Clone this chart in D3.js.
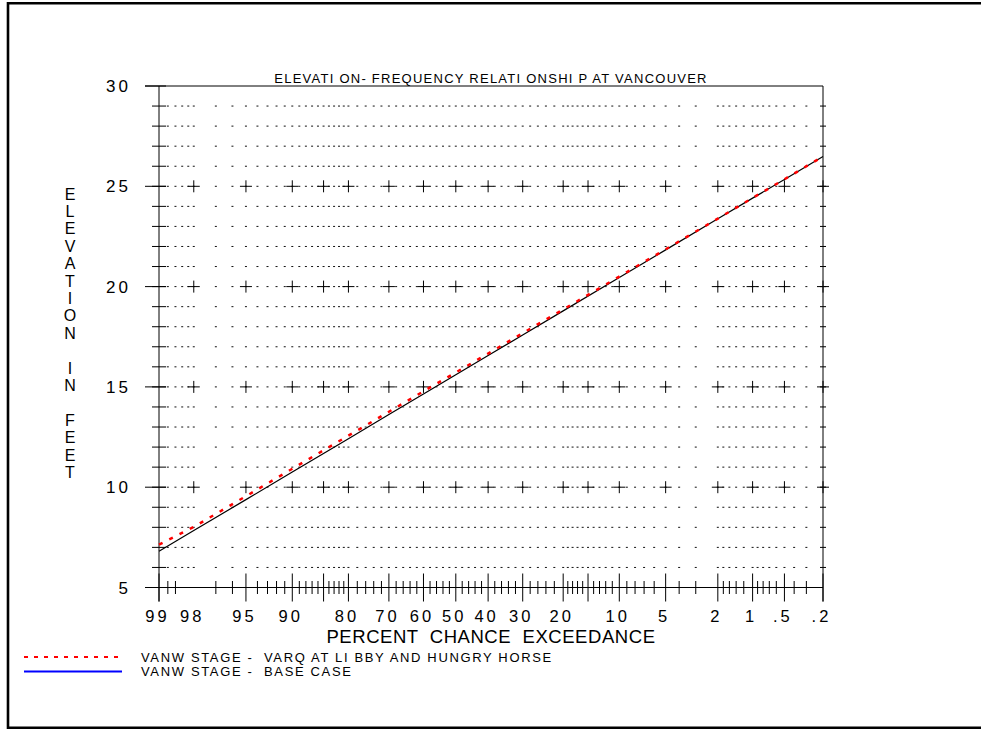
<!DOCTYPE html>
<html>
<head>
<meta charset="utf-8">
<script src="https://cdn.jsdelivr.net/npm/d3@7"></script>
<style>
  body { margin: 0; background: #fff; overflow: hidden; }
  svg { display: block; overflow: hidden; }
  svg text { font-family: "Liberation Sans", Arial, sans-serif; fill: #000; white-space: pre; }
</style>
</head>
<body>
<div id="chart"></div>
<script>
// percent chance exceedance where the curves were read
const exceedance = [99, 98, 95, 90, 80, 70, 60, 50, 40, 30, 20, 10, 5, 2, 1, 0.5, 0.2];
// VANW stage - base case (feet)
const baseCase = [6.81, 7.84, 9.38, 10.76, 12.42, 13.62, 14.65, 15.61, 16.56, 17.59, 18.79, 20.45, 21.83, 23.38, 24.41, 25.34, 26.49];
// VANW stage - VARQ at Libby and Hungry Horse (feet)
const varqCase = [7.14, 8.02, 9.55, 10.92, 12.57, 13.76, 14.78, 15.72, 16.66, 17.68, 18.86, 20.5, 21.86, 23.39, 24.42, 25.35, 26.49];

// probability axis
const xLabelValues = [99, 98, 95, 90, 80, 70, 60, 50, 40, 30, 20, 10, 5, 2, 1, 0.5, 0.2];
const xLabels = ["99", "98", "95", "90", "80", "70", "60", "50", "40", "30", "20", "10", "5", "2", "1", ".5", ".2"];
const xMajorTicks = [99, 95, 90, 85, 80, 70, 60, 50, 40, 30, 20, 15, 10, 5, 2, 1, 0.5, 0.2];
const xMinorTicks = [98.8, 98.6, 97, 96, 94, 93, 92, 91, 89, 88, 87, 86, 84, 83, 82, 81,
  78, 76, 74, 72, 68, 66, 64, 62, 58, 56, 54, 52, 48, 46, 44, 42, 38, 36, 34, 32,
  28, 26, 24, 22, 19, 18, 17, 16, 14, 13, 12, 11, 9, 8, 7, 6, 4, 3,
  1.8, 1.6, 1.4, 1.2, 0.9, 0.8, 0.7, 0.6, 0.4, 0.3];
const xGridExtra = [98.4, 98.2, 98];
const crossValues = [98, 95, 90, 85, 80, 70, 60, 50, 40, 30, 20, 15, 10, 5, 2, 1, 0.5, 0.2];

// elevation axis
const yLabelValues = [5, 10, 15, 20, 25, 30];
const yGridRows = d3.range(6, 30);
const yCrossRows = [10, 15, 20, 25];

const title = "ELEVATI ON- FREQUENCY RELATI ONSHI P AT VANCOUVER";
const xTitle = "PERCENT  CHANCE  EXCEEDANCE";
const yTitle = "ELEVATION IN FEET";
const legendItems = [
  { label: "VANW STAGE -  VARQ AT LI BBY AND HUNGRY HORSE", color: "#ff0000", dash: "4,6" },
  { label: "VANW STAGE -  BASE CASE", color: "#0000ff", dash: null }
];

// inverse standard normal cdf (Acklam)
function normInv(p) {
  const a = [-3.969683028665376e+01, 2.209460984245205e+02, -2.759285104469687e+02, 1.383577518672690e+02, -3.066479806614716e+01, 2.506628277459239e+00];
  const b = [-5.447609879822406e+01, 1.615858368580409e+02, -1.556989798598866e+02, 6.680131188771972e+01, -1.328068155288572e+01];
  const c = [-7.784894002430293e-03, -3.223964580411365e-01, -2.400758277161838e+00, -2.549732539343734e+00, 4.374664141464968e+00, 2.938163982698783e+00];
  const d = [7.784695709041462e-03, 3.224671290700398e-01, 2.445134137142996e+00, 3.754408661907416e+00];
  const pl = 0.02425;
  let q, r;
  if (p < pl) {
    q = Math.sqrt(-2 * Math.log(p));
    return (((((c[0] * q + c[1]) * q + c[2]) * q + c[3]) * q + c[4]) * q + c[5]) / ((((d[0] * q + d[1]) * q + d[2]) * q + d[3]) * q + 1);
  }
  if (p <= 1 - pl) {
    q = p - 0.5; r = q * q;
    return (((((a[0] * r + a[1]) * r + a[2]) * r + a[3]) * r + a[4]) * r + a[5]) * q / (((((b[0] * r + b[1]) * r + b[2]) * r + b[3]) * r + b[4]) * r + 1);
  }
  q = Math.sqrt(-2 * Math.log(1 - p));
  return -(((((c[0] * q + c[1]) * q + c[2]) * q + c[3]) * q + c[4]) * q + c[5]) / ((((d[0] * q + d[1]) * q + d[2]) * q + d[3]) * q + 1);
}

class ProbabilityChart {
  constructor(_config) {
    this.config = {
      parentElement: _config.parentElement,
      containerWidth: 981,
      containerHeight: 730,
      plot: { left: 159, right: 823, top: 86, bottom: 587.5 }
    };
    this.initVis();
  }

  initVis() {
    let vis = this;
    const p = vis.config.plot;

    vis.svg = d3.select(vis.config.parentElement)
      .append("svg")
      .attr("width", vis.config.containerWidth)
      .attr("height", vis.config.containerHeight);

    // normal probability scale: percent exceedance -> z -> pixels
    vis.z = d3.scaleLinear()
      .domain([normInv(0.01), normInv(0.998)])
      .range([p.left, p.right]);
    vis.x = (pct) => vis.z(normInv(1 - pct / 100));

    vis.y = d3.scaleLinear().domain([5, 30]).range([p.bottom, p.top]);

    // outer frame: left, top and bottom sides only (right side is off the page)
    vis.svg.append("path")
      .attr("d", "M1200,3.3H8V727.8H1200")
      .attr("fill", "none").attr("stroke", "#000").attr("stroke-width", 2.6);

    this.drawGrid();
    this.drawAxes();
    this.updateVis();
    this.drawLegend();
  }

  drawGrid() {
    let vis = this;
    const gridValues = xMajorTicks.concat(xMinorTicks, xGridExtra)
      .filter(v => v !== 99 && v !== 0.2);
    const dots = [];
    yGridRows.forEach(r => gridValues.forEach(v => dots.push([v, r])));

    vis.svg.append("g").attr("class", "grid-dots")
      .selectAll("line").data(dots).join("line")
      .attr("x1", d => vis.x(d[0]) - 1)
      .attr("x2", d => vis.x(d[0]) + 1)
      .attr("y1", d => vis.y(d[1]))
      .attr("y2", d => vis.y(d[1]))
      .attr("stroke", "#111").attr("stroke-width", 1);

    const crosses = [];
    yCrossRows.forEach(r => crossValues.forEach(v => crosses.push([v, r])));
    const cg = vis.svg.append("g").attr("class", "crosses")
      .selectAll("g").data(crosses).join("g")
      .attr("transform", d => `translate(${vis.x(d[0])},${vis.y(d[1])})`);
    cg.append("line").attr("x1", -6).attr("x2", 6).attr("stroke", "#000");
    cg.append("line").attr("y1", -6).attr("y2", 6).attr("stroke", "#000");
  }

  drawAxes() {
    let vis = this;
    const p = vis.config.plot;
    const ax = vis.svg.append("g").attr("class", "axes").attr("stroke", "#000").attr("stroke-width", 1);

    // frame lines
    ax.append("line").attr("x1", 145).attr("x2", p.right).attr("y1", vis.y(30)).attr("y2", vis.y(30));
    ax.append("line").attr("x1", 145).attr("x2", p.right).attr("y1", vis.y(5)).attr("y2", vis.y(5));
    ax.append("line").attr("x1", vis.x(99)).attr("x2", vis.x(99)).attr("y1", vis.y(30)).attr("y2", vis.y(5) + 14);
    ax.append("line").attr("x1", vis.x(0.2)).attr("x2", vis.x(0.2)).attr("y1", vis.y(30)).attr("y2", vis.y(5) + 14);

    // y ticks on the left and right axes
    ax.selectAll(".ytick-major").data(yLabelValues).join("line")
      .attr("x1", 145).attr("x2", 166)
      .attr("y1", d => vis.y(d)).attr("y2", d => vis.y(d));
    ax.selectAll(".ytick-minor").data(yGridRows).join("line")
      .attr("x1", 152).attr("x2", 166)
      .attr("y1", d => vis.y(d)).attr("y2", d => vis.y(d));
    ax.selectAll(".ytick-right").data(yGridRows).join("line")
      .attr("x1", p.right - 3).attr("x2", p.right + 3)
      .attr("y1", d => vis.y(d)).attr("y2", d => vis.y(d));

    // x ticks, crossing the bottom axis
    ax.selectAll(".xtick-major").data(xMajorTicks).join("line")
      .attr("x1", d => vis.x(d)).attr("x2", d => vis.x(d))
      .attr("y1", vis.y(5) - 14).attr("y2", vis.y(5) + 14);
    ax.selectAll(".xtick-minor").data(xMinorTicks).join("line")
      .attr("x1", d => vis.x(d)).attr("x2", d => vis.x(d))
      .attr("y1", vis.y(5) - 6.5).attr("y2", vis.y(5) + 6.5);

    // tick labels
    vis.svg.append("g").selectAll("text").data(yLabelValues).join("text")
      .attr("x", 131).attr("y", d => vis.y(d)).attr("dy", "0.36em")
      .attr("text-anchor", "end")
      .style("font-size", "17px").style("letter-spacing", "3px")
      .text(d => d);

    // labels sit a little left of their ticks, as in the original
    vis.svg.append("g").selectAll("text").data(xLabelValues).join("text")
      .attr("x", d => vis.x(d) - 1.5).attr("y", 622)
      .attr("text-anchor", "middle")
      .style("font-size", "16.5px").style("letter-spacing", "3px")
      .text((d, i) => xLabels[i]);

    // titles
    vis.svg.append("text")
      .attr("x", (p.left + p.right) / 2).attr("y", 82.5)
      .attr("text-anchor", "middle")
      .style("font-size", "13px").style("letter-spacing", "1.25px")
      .text(title);

    vis.svg.append("text")
      .attr("x", (p.left + p.right) / 2).attr("y", 643)
      .attr("text-anchor", "middle")
      .style("font-size", "18.5px").style("letter-spacing", "0.55px")
      .text(xTitle);

    vis.svg.append("text")
      .style("font-size", "16px")
      .attr("text-anchor", "middle")
      .selectAll("tspan").data(yTitle.split("")).join("tspan")
      .attr("x", 70)
      .attr("y", (d, i) => 199.5 + i * 17.4)
      .text(d => d);
  }

  updateVis() {
    let vis = this;
    const line = d3.line()
      .x((d, i) => vis.x(exceedance[i]))
      .y(d => vis.y(d));

    vis.svg.append("path")
      .datum(baseCase)
      .attr("fill", "none")
      .attr("stroke", "#000")
      .attr("stroke-width", 1.2)
      .attr("d", line);

    vis.svg.append("path")
      .datum(varqCase)
      .attr("fill", "none")
      .attr("stroke", "#ff0000")
      .attr("stroke-width", 2.5)
      .attr("stroke-dasharray", "4,7.5")
      .attr("d", line);
  }

  drawLegend() {
    let vis = this;
    const lg = vis.svg.append("g").attr("class", "legend")
      .selectAll("g").data(legendItems).join("g")
      .attr("transform", (d, i) => `translate(0,${657 + i * 14.5})`);
    lg.append("line")
      .attr("x1", 24).attr("x2", 122)
      .attr("stroke", d => d.color)
      .attr("stroke-width", 2)
      .attr("stroke-dasharray", d => d.dash);
    lg.append("text")
      .attr("x", 141).attr("dy", "0.36em")
      .style("font-size", "13px").style("letter-spacing", "1.65px")
      .text(d => d.label);
  }
}

new ProbabilityChart({ parentElement: "#chart" });
</script>
</body>
</html>
